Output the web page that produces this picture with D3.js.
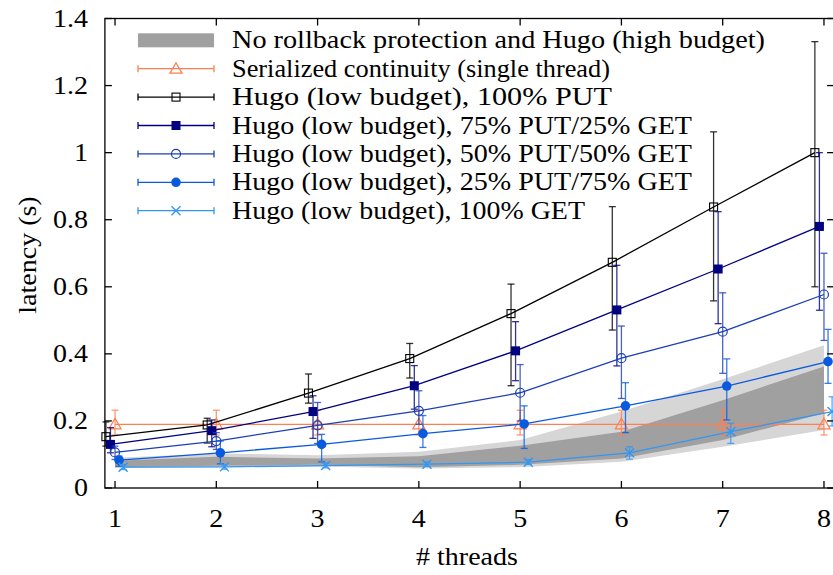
<!DOCTYPE html>
<html><head><meta charset="utf-8">
<script src="https://cdn.jsdelivr.net/npm/d3@7"></script>
<style>body{margin:0;background:#fff}svg{display:block}</style>
</head><body><svg id="c" width="833" height="575" font-family="Liberation Serif"></svg>
<script>
const threads = [1,2,3,4,5,6,7,8];
const yTicks = [0,0.2,0.4,0.6,0.8,1,1.2,1.4];
const yTickLabels = ["0","0.2","0.4","0.6","0.8","1","1.2","1.4"];
const xTickLabels = ["1","2","3","4","5","6","7","8"];

// shaded bands: "No rollback protection and Hugo (high budget)"
const bandLightLo = [0.060,0.062,0.064,0.058,0.062,0.078,0.123,0.173];
const bandLightHi = [0.090,0.103,0.098,0.108,0.143,0.228,0.324,0.426];
const bandDarkLo  = [0.062,0.066,0.069,0.062,0.069,0.088,0.143,0.223];
const bandDarkHi  = [0.081,0.093,0.088,0.095,0.126,0.168,0.262,0.362];

const serialY  = [0.19,0.19,0.19,0.19,0.19,0.19,0.19,0.19];
const serialLo = [0.158,0.158,0.158,0.158,0.158,0.158,0.158,0.158];
const serialHi = [0.232,0.232,0.232,0.232,0.232,0.232,0.232,0.232];

const put100Y  = [0.153,0.188,0.283,0.386,0.520,0.673,0.838,1.000];
const put100Lo = [0.125,0.134,0.253,0.328,0.305,0.471,0.558,0.600];
const put100Hi = [0.197,0.208,0.340,0.431,0.608,0.839,1.062,1.331];

const put75Y  = [0.130,0.171,0.228,0.305,0.409,0.531,0.653,0.780];
const put75Lo = [0.105,0.123,0.148,0.235,0.320,0.364,0.490,0.530];
const put75Hi = [0.180,0.203,0.275,0.365,0.496,0.664,0.824,1.000];

const put50Y  = [0.106,0.140,0.187,0.230,0.284,0.387,0.466,0.577];
const put50Lo = [0.085,0.115,0.133,0.190,0.200,0.267,0.342,0.440];
const put50Hi = [0.125,0.165,0.255,0.290,0.368,0.483,0.582,0.700];

const put25Y  = [0.083,0.105,0.130,0.162,0.191,0.245,0.304,0.377];
const put25Lo = [0.065,0.072,0.078,0.121,0.118,0.165,0.203,0.312];
const put25Hi = [0.095,0.140,0.160,0.216,0.245,0.314,0.385,0.473];

const get100Y  = [0.062,0.063,0.067,0.071,0.077,0.105,0.168,0.228];
const get100Lo = [0.055,0.056,0.060,0.064,0.070,0.086,0.133,0.185];
const get100Hi = [0.070,0.070,0.075,0.078,0.085,0.123,0.193,0.272];

const legendLabels = [
  "No rollback protection and Hugo (high budget)",
  "Serialized continuity (single thread)",
  "Hugo (low budget), 100% PUT",
  "Hugo (low budget), 75% PUT/25% GET",
  "Hugo (low budget), 50% PUT/50% GET",
  "Hugo (low budget), 25% PUT/75% GET",
  "Hugo (low budget), 100% GET"
];

// layout (not data): rendered widths of legend texts
const legendTextWidth = [533, 378, 380, 460, 460, 460, 353];

const series = [
  {y:serialY, lo:serialLo, hi:serialHi, color:"#ff7f50", marker:"tri", off:0},
  {y:put100Y, lo:put100Lo, hi:put100Hi, color:"#000000", marker:"sqOpen", off:-0.09},
  {y:put75Y,  lo:put75Lo,  hi:put75Hi,  color:"#000080", marker:"sqFill", off:-0.045},
  {y:put50Y,  lo:put50Lo,  hi:put50Hi,  color:"#1c3fb4", marker:"circOpen", off:0},
  {y:put25Y,  lo:put25Lo,  hi:put25Hi,  color:"#0a5ae0", marker:"circFill", off:0.04},
  {y:get100Y, lo:get100Lo, hi:get100Hi, color:"#3396f5", marker:"cross", off:0.08}
];

const SX = 1.12, FS = 25;
const svg = d3.select("#c");
const x = d3.scaleLinear().domain([0.9,8.1]).range([104.9,834.1]);
const y = d3.scaleLinear().domain([0,1.4]).range([488,18.5]);

function txt(g, s, tx, ty, anchor, extra, sx){
  return g.append("text").attr("transform",`translate(${tx},${ty})${extra||""} scale(${sx||SX},1)`)
    .attr("text-anchor",anchor).attr("font-size",FS).attr("font-family","Liberation Serif")
    .style("font-family","Liberation Serif").attr("fill","#000").text(s);
}

// bands
const area = (lo,hi)=>d3.area().x((d,i)=>x(threads[i])).y0((d,i)=>y(lo[i])).y1((d,i)=>y(hi[i]));
svg.append("path").attr("d",area(bandLightLo,bandLightHi)(threads)).attr("fill","#d6d6d6");
svg.append("path").attr("d",area(bandDarkLo,bandDarkHi)(threads)).attr("fill","#a0a0a0");

function marker(g, type, cx, cy, color){
  if(type==="tri"){
    g.append("path").attr("d",`M${cx},${cy-6}L${cx+6},${cy+4.5}L${cx-6},${cy+4.5}Z`).attr("fill","none").attr("stroke",color).attr("stroke-width",1.3);
  } else if(type==="sqOpen"){
    g.append("rect").attr("x",cx-4).attr("y",cy-4).attr("width",8).attr("height",8).attr("fill","none").attr("stroke",color).attr("stroke-width",1.1);
  } else if(type==="sqFill"){
    g.append("rect").attr("x",cx-4.5).attr("y",cy-4.5).attr("width",9).attr("height",9).attr("fill",color);
  } else if(type==="circOpen"){
    g.append("circle").attr("cx",cx).attr("cy",cy).attr("r",4.5).attr("fill","none").attr("stroke",color).attr("stroke-width",1.2);
  } else if(type==="circFill"){
    g.append("circle").attr("cx",cx).attr("cy",cy).attr("r",4.8).attr("fill",color);
  } else if(type==="cross"){
    g.append("path").attr("d",`M${cx-4.5},${cy-4.5}L${cx+4.5},${cy+4.5}M${cx-4.5},${cy+4.5}L${cx+4.5},${cy-4.5}`).attr("stroke",color).attr("stroke-width",1.4);
  }
}

series.forEach(s=>{
  const g = svg.append("g");
  const px = threads.map(t=>x(t+s.off));
  const line = d3.line().x((d,i)=>px[i]).y(d=>y(d));
  s.y.forEach((v,i)=>{
    const eg = g.append("g").attr("stroke",s.color).attr("stroke-width",1.3).attr("stroke-opacity",0.8);
    eg.append("line").attr("x1",px[i]).attr("x2",px[i]).attr("y1",y(s.lo[i])).attr("y2",y(s.hi[i]));
    eg.append("line").attr("x1",px[i]-3.5).attr("x2",px[i]+3.5).attr("y1",y(s.lo[i])).attr("y2",y(s.lo[i]));
    eg.append("line").attr("x1",px[i]-3.5).attr("x2",px[i]+3.5).attr("y1",y(s.hi[i])).attr("y2",y(s.hi[i]));
  });
  g.append("path").attr("d",line(s.y)).attr("fill","none").attr("stroke",s.color).attr("stroke-width",1.3);
  s.y.forEach((v,i)=>marker(g,s.marker,px[i],y(v),s.color));
});

// frame and ticks
const fr = svg.append("g").attr("stroke","#000").attr("stroke-width",1.3);
fr.append("rect").attr("x",x(0.9)).attr("y",y(1.4)).attr("width",x(8.1)-x(0.9)).attr("height",y(0)-y(1.4)).attr("fill","none");
const TL = 7;
yTicks.forEach(t=>{
  fr.append("line").attr("x1",x(0.9)).attr("x2",x(0.9)+TL).attr("y1",y(t)).attr("y2",y(t));
  fr.append("line").attr("x1",x(8.1)).attr("x2",x(8.1)-TL).attr("y1",y(t)).attr("y2",y(t));
});
threads.forEach(t=>{
  fr.append("line").attr("x1",x(t)).attr("x2",x(t)).attr("y1",y(0)).attr("y2",y(0)-TL);
  fr.append("line").attr("x1",x(t)).attr("x2",x(t)).attr("y1",y(1.4)).attr("y2",y(1.4)+TL);
});
const tg = svg.append("g");
yTicks.forEach((t,i)=>txt(tg, yTickLabels[i], 88, y(t)+8, "end"));
threads.forEach((t,i)=>txt(tg, xTickLabels[i], x(t), 527, "middle"));
txt(tg, "# threads", 467, 565, "middle");
txt(tg, "latency (s)", 36, 255, "middle", " rotate(-90)");

// legend
const lg = svg.append("g");
const lx0 = 138, lx1 = 214, ltx = 232, ly0 = 40.3, ldy = 28.4;
legendLabels.forEach((lab,i)=>{
  const cy = ly0 + i*ldy;
  if(i===0){
    lg.append("rect").attr("x",lx0).attr("y",cy-7).attr("width",lx1-lx0).attr("height",14).attr("fill","#a0a0a0");
  } else {
    const s = series[i-1];
    const eg = lg.append("g").attr("stroke",s.color).attr("stroke-width",1.3);
    eg.append("line").attr("x1",lx0).attr("x2",lx1).attr("y1",cy).attr("y2",cy);
    eg.append("line").attr("x1",lx0).attr("x2",lx0).attr("y1",cy-3.5).attr("y2",cy+3.5);
    eg.append("line").attr("x1",lx1).attr("x2",lx1).attr("y1",cy-3.5).attr("y2",cy+3.5);
    marker(lg, s.marker, (lx0+lx1)/2, cy, s.color);
  }
  txt(lg, lab, ltx, cy+8, "start", "", 1)
    .attr("textLength", legendTextWidth[i]).attr("lengthAdjust","spacingAndGlyphs");
});
</script></body></html>
